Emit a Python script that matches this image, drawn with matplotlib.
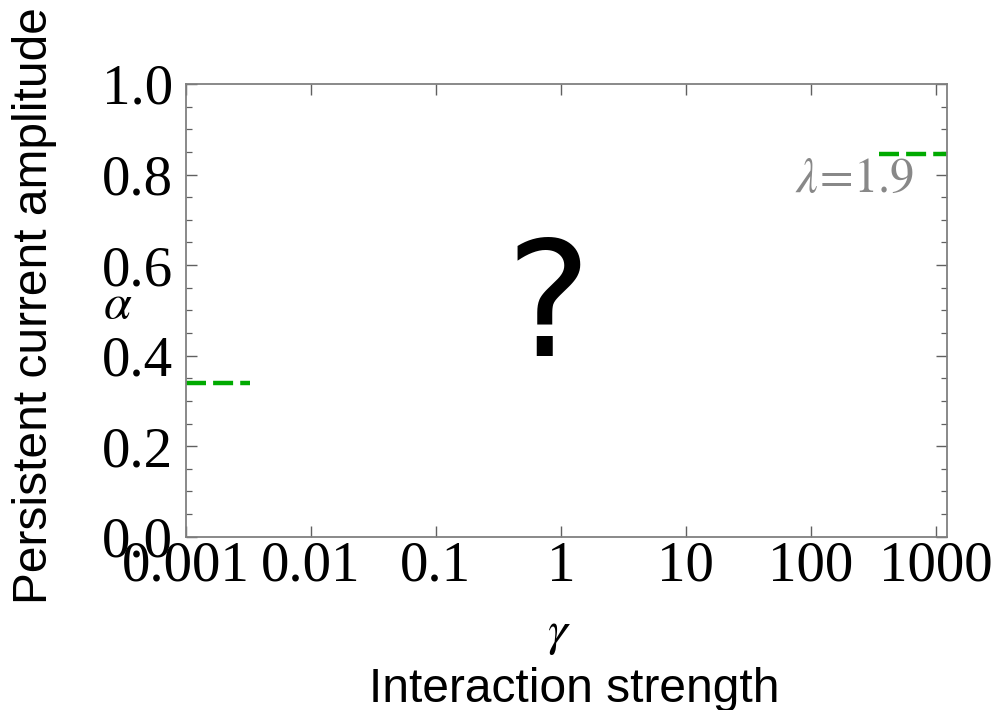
import numpy as np
import matplotlib
matplotlib.use('Agg')
import matplotlib.pyplot as plt
from matplotlib.ticker import MultipleLocator, LogLocator, FixedFormatter, FixedLocator

# data
left_x = [0.001, 0.0033]
left_y = [0.339, 0.339]
right_x = [350, 1300]
right_y = [0.845, 0.845]
xticks = [0.001, 0.01, 0.1, 1, 10, 100, 1000]
xticklabels = ['0.001', '0.01', '0.1', '1', '10', '100', '1000']
yticks = [0.0, 0.2, 0.4, 0.6, 0.8, 1.0]
yticklabels = ['0.0', '0.2', '0.4', '0.6', '0.8', '1.0']

plt.rcParams['mathtext.fontset'] = 'stix'

fig = plt.figure(figsize=(9.96, 7.1), dpi=100)
ax = fig.add_axes([0.1864, 0.2441, 0.7641, 0.6376])

green = '#00aa00'
ax.plot(left_x, left_y, color=green, lw=3.2, dashes=(4.5, 1.6), dash_capstyle='butt', clip_on=False)
ax.plot(right_x, right_y, color=green, lw=3.2, dashes=(4.5, 1.6), dash_capstyle='butt', clip_on=True)

ax.set_xscale('log')
ax.set_xlim(0.001, 1220)
ax.set_ylim(0, 1)

ax.xaxis.set_major_locator(FixedLocator(xticks))
ax.xaxis.set_major_formatter(FixedFormatter(xticklabels))
ax.xaxis.set_minor_locator(LogLocator(base=10, subs=np.arange(2, 10)))
ax.yaxis.set_major_locator(FixedLocator(yticks))
ax.yaxis.set_major_formatter(FixedFormatter(yticklabels))
ax.yaxis.set_minor_locator(MultipleLocator(0.05))

for s in ax.spines.values():
    s.set_color('#808080')
    s.set_linewidth(1.3)
ax.tick_params(which='both', direction='in', top=True, right=True, color='#606060')
ax.tick_params(which='major', length=8, width=1.0, labelsize=41)
ax.tick_params(axis='x', which='major', pad=3)
ax.tick_params(axis='y', which='major', pad=9)
ax.tick_params(which='minor', length=4.5, width=0.9)
for lab in ax.get_xticklabels() + ax.get_yticklabels():
    lab.set_family('Liberation Serif')

ax.text(0.958, 0.788, r'$\lambda\!=\!1.9$', transform=ax.transAxes, color='#888888',
        fontsize=35, ha='right', va='center', family='Liberation Serif')
ax.text(0.476, 0.497, '?', transform=ax.transAxes, fontsize=116, ha='center', va='center',
        family='DejaVu Sans')

fig.text(0.1185, 0.572, r'$\alpha$', fontsize=36, ha='center', va='center')
fig.text(0.035, 0.57, 'Persistent current amplitude', fontsize=34.5, rotation=90,
         ha='center', va='center', family='Liberation Sans')
fig.text(0.561, 0.108, r'$\gamma$', fontsize=36, ha='center', va='center')
fig.text(0.577, 0.029, 'Interaction strength', fontsize=34.5, ha='center', va='center',
         family='Liberation Sans')

fig.savefig('out.png', dpi=100)
